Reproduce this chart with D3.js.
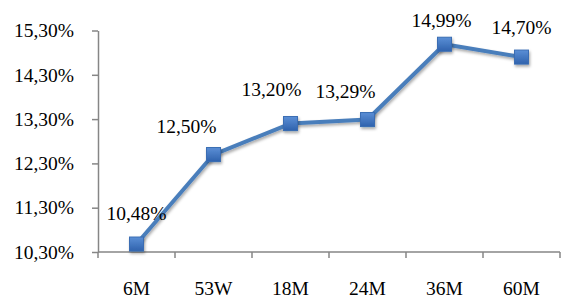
<!doctype html>
<html lang="en">
<head>
  <meta charset="utf-8">
  <title>Yield curve</title>
  <script src="https://d3js.org/d3.v7.min.js"></script>
  <style>
    body { margin: 0; background: #fff; }
    .axis text { font-family: 'Liberation Serif', 'Times New Roman', serif; font-size: 19.5px; fill: #000; }
    .axis path, .axis line { stroke: #868686; stroke-width: 1.5; }
    .lbl { font-family: 'Liberation Serif', 'Times New Roman', serif; font-size: 19.5px; fill: #000; }
  </style>
</head>
<body>
  <div id="chart"></div>
  <script>
    // data
    var terms = ['6M', '53W', '18M', '24M', '36M', '60M'];
    var rates = [10.48, 12.50, 13.20, 13.29, 14.99, 14.70];
    var yTicks = [10.30, 11.30, 12.30, 13.30, 14.30, 15.30];

    // label nudges relative to each marker (layout only)
    var labelDx = [0, -27, -19, -22, -3, 0];
    var labelDy = [-24, -22, -28, -22, -17, -23];

    var width = 561, height = 295;
    var mLeft = 98, mRight = 560, mTop = 30.5, mBottom = 252;

    var svg = d3.select('#chart').append('svg')
      .attr('width', width)
      .attr('height', height);

    var x = d3.scaleBand().domain(terms).range([mLeft, mRight]);
    var y = d3.scaleLinear().domain([10.30, 15.30]).range([mBottom, mTop]);

    var fmt = function(v) { return v.toFixed(2).replace('.', ',') + '%'; };

    svg.append('g')
      .attr('class', 'axis')
      .attr('transform', 'translate(' + mLeft + ',0)')
      .call(d3.axisLeft(y).tickValues(yTicks).tickFormat(fmt).tickSizeInner(6).tickSizeOuter(0).tickPadding(18));

    // x axis: ticks sit between categories
    var xg = svg.append('g')
      .attr('class', 'axis')
      .attr('transform', 'translate(0,' + mBottom + ')');
    xg.append('path').attr('d', 'M' + mLeft + ',0H' + mRight);
    xg.selectAll('line.sep')
      .data(terms.concat(['end']))
      .enter().append('line')
      .attr('x1', function(d, i) { return mLeft + i * x.bandwidth(); })
      .attr('x2', function(d, i) { return mLeft + i * x.bandwidth(); })
      .attr('y1', 0).attr('y2', 6);
    xg.selectAll('text')
      .data(terms)
      .enter().append('text')
      .attr('x', function(d) { return x(d) + x.bandwidth() / 2; })
      .attr('y', 43)
      .attr('text-anchor', 'middle')
      .text(function(d) { return d; });

    var defs = svg.append('defs');
    var grad = defs.append('linearGradient').attr('id', 'mk').attr('x1', 0).attr('y1', 0).attr('x2', 0).attr('y2', 1);
    grad.append('stop').attr('offset', '0%').attr('stop-color', '#5b8fd6');
    grad.append('stop').attr('offset', '100%').attr('stop-color', '#2f62ad');
    var sh = defs.append('filter').attr('id', 'sh').attr('x', '-50%').attr('y', '-50%').attr('width', '200%').attr('height', '200%');
    sh.append('feDropShadow').attr('dx', 1).attr('dy', 2).attr('stdDeviation', 1.5).attr('flood-color', '#000').attr('flood-opacity', 0.35);

    var cx = function(d, i) { return x(terms[i]) + x.bandwidth() / 2; };

    var line = d3.line()
      .x(function(d, i) { return cx(d, i); })
      .y(function(d) { return y(d); });

    svg.append('path')
      .datum(rates)
      .attr('d', line)
      .attr('fill', 'none')
      .attr('stroke', '#4a7ebb')
      .attr('stroke-width', 4)
      .attr('stroke-linejoin', 'round')
      .attr('filter', 'url(#sh)');

    svg.selectAll('rect.mk')
      .data(rates)
      .enter().append('rect')
      .attr('class', 'mk')
      .attr('x', function(d, i) { return cx(d, i) - 7; })
      .attr('y', function(d) { return y(d) - 7; })
      .attr('width', 14).attr('height', 14)
      .attr('fill', 'url(#mk)')
      .attr('stroke', '#3a6db3')
      .attr('stroke-width', 1)
      .attr('filter', 'url(#sh)');

    svg.selectAll('text.lbl')
      .data(rates)
      .enter().append('text')
      .attr('class', 'lbl')
      .attr('x', function(d, i) { return cx(d, i) + labelDx[i]; })
      .attr('y', function(d, i) { return y(d) + labelDy[i]; })
      .attr('text-anchor', 'middle')
      .text(fmt);
  </script>
</body>
</html>
